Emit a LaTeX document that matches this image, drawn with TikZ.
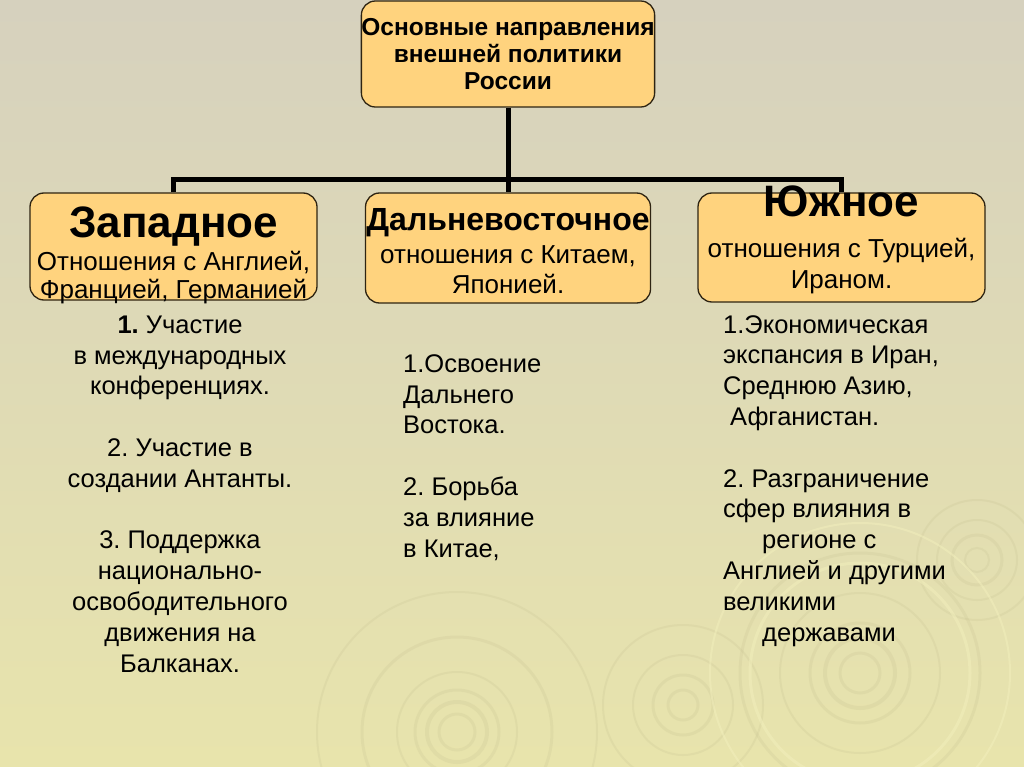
\documentclass[tikz,border=0pt]{standalone}
\usepackage{fontspec}
\setmainfont{Liberation Sans}
\frenchspacing
\definecolor{bgtop}{HTML}{D6D1BE}
\definecolor{bgbot}{HTML}{E8E4AC}
\definecolor{boxfill}{HTML}{FFD37E}
\definecolor{boxline}{HTML}{2E2412}
\definecolor{ring}{HTML}{C2BD8E}
\definecolor{ringlight}{HTML}{F2EFBC}
\begin{document}
\begin{tikzpicture}[x=1pt,y=-1pt,
  box/.style={draw=boxline,line width=1.3pt,fill=boxfill,rounded corners=14pt,inner sep=0pt},
  conn/.style={line width=5pt,draw=black},
  ttl/.style={font=\bfseries\fontsize{44}{50}\selectfont,inner sep=0pt,anchor=base},
  sub/.style={font=\fontsize{26}{29}\selectfont,inner sep=0pt,anchor=base,align=center},
  body/.style={font=\fontsize{25.5}{30.8}\selectfont,inner sep=0pt},
  rip/.style={draw=ring,opacity=0.2},
  ripl/.style={draw=ringlight,opacity=0.5}]
\useasboundingbox (0,0) rectangle (1024,767);
\shade[top color=bgtop,bottom color=bgbot] (0,0) rectangle (1024,767);
% background ripples
\foreach \r/\w in {18/3,30/4,42/3,60/2,95/3,140/2}{\draw[rip,line width=\w pt] (457,732) circle (\r);}
\foreach \r/\w in {20/3,35/4,50/3,80/2,120/3}{\draw[rip,line width=\w pt] (860,673) circle (\r);}
\foreach \r/\w in {15/3,30/3,50/2,80/2}{\draw[rip,line width=\w pt] (683,705) circle (\r);}
\foreach \r/\w in {12/2,25/3,40/2,60/2}{\draw[rip,line width=\w pt] (977,560) circle (\r);}
\foreach \r/\w in {110/3,150/2}{\draw[ripl,line width=\w pt] (860,673) circle (\r);}
% boxes
\node[box,minimum width=288pt,minimum height=106pt,align=center,
      font=\bfseries\fontsize{24.5}{27}\selectfont] (top) at (508,54)
      {Основные направления\\внешней политики\\России};
\node[box,minimum width=287pt,minimum height=107pt] (west) at (173.5,246.5) {};
\node[box,minimum width=285pt,minimum height=110pt] (mid) at (508,248) {};
\node[box,minimum width=287pt,minimum height=109pt] (east) at (841.5,247.5) {};
% connectors
\coordinate (j) at (508,180);
\draw[conn] (top.south) -- (mid.north);
\draw[conn] (west.north) |- (j) -| (east.north);
% box texts
\node[ttl] (wt) at (173.5,237) {Западное};
\node[sub] (ws1) at (173.5,270) {Отношения с Англией,};
\node[sub] (ws2) at (173.5,298) {Францией, Германией};
\node[ttl,font=\bfseries\fontsize{32}{36}\selectfont] (mt) at (508,230) {Дальневосточное};
\node[sub] (ms1) at (508,263) {отношения с Китаем,};
\node[sub] (ms2) at (508,293) {Японией.};
\node[ttl] (et) at (841.5,217) {Южное};
\node[sub] (es1) at (841.5,258) {отношения с Турцией,};
\node[sub] (es2) at (841.5,288) {Ираном.};
% lists (base anchor = baseline of last line)
\node[body,align=center,anchor=base] (wl) at (180,672) {\textbf{1.} Участие\\в международных\\конференциях.\\[30.8pt]2. Участие в\\создании Антанты.\\[30.8pt]3. Поддержка\\национально-\\освободительного\\движения на\\Балканах.};
\node[body,align=left,anchor=base west] (ml) at (403,557) {1.Освоение\\Дальнего\\Востока.\\[30.8pt]2. Борьба\\за влияние\\в Китае,};
\node[body,align=left,anchor=base west] (el) at (723,641) {1.Экономическая\\экспансия в Иран,\\Среднюю Азию,\\\hspace*{7pt}Афганистан.\\[30.8pt]2. Разграничение\\сфер влияния в\\\hspace*{39pt}регионе с\\Англией и другими\\великими\\\hspace*{39pt}державами};
\end{tikzpicture}
\end{document}
